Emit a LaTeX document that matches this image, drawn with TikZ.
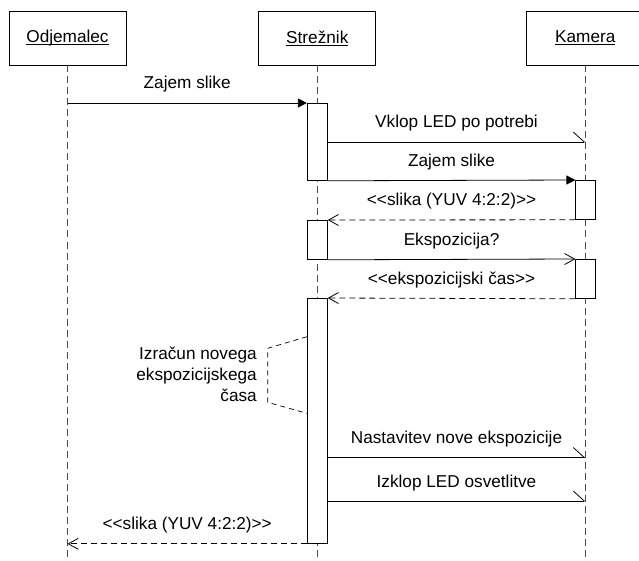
\documentclass[tikz,border=0pt]{standalone}
\usepackage{fontspec}
\setmainfont{Liberation Sans}[Ligatures=TeXOff]
\usetikzlibrary{arrows.meta}
% participant names: text with a rule just under the baseline
\newcommand\ulname[1]{\setbox0\hbox{#1}\rlap{\rule[-2.4pt]{\wd0}{0.9pt}}\box0}
\begin{document}
\begin{tikzpicture}[x=1pt,y=-1pt,
  font=\fontsize{17.2}{21}\selectfont,
  actor/.style={draw, line width=0.8pt, minimum width=117pt, minimum height=54pt, inner sep=0pt, anchor=north},
  life/.style={draw=black!70, line width=0.8pt, dash pattern=on 7pt off 4pt},
  act/.style={draw, fill=white, line width=0.8pt, minimum width=20pt, inner sep=0pt, anchor=north},
  call/.style={line width=0.8pt, -{Triangle[length=9pt,width=9pt]}},
  async/.style={line width=0.8pt, -{Straight Barb[length=11pt,width=20pt,left]}},
  sig/.style={line width=0.8pt, -{Straight Barb[length=10pt,width=11pt]}},
  reply/.style={sig, dash pattern=on 6pt off 4pt},
  msg/.style={anchor=base, yshift=14pt},
  note/.style={line width=0.7pt, dash pattern=on 5pt off 4pt}]
\useasboundingbox (0,0) rectangle (639,561);

% participants
\node[actor] (o) at (67.5,10.7) {\ulname{Odjemalec}};
\node[actor] (s) at (317.3,10.7) {\ulname{Strežnik}};
\node[actor] (k) at (585.3,10.7) {\ulname{Kamera}};

% lifelines
\coordinate (oe) at (67.5,561);
\coordinate (se) at (317.3,561);
\coordinate (ke) at (585.3,561);
\draw[life] (o.south) -- (oe);
\draw[life] (s.south) -- (se);
\draw[life] (k.south) -- (ke);

% activations
\node[act, minimum height=77pt] (s1) at (317.3,103) {};
\node[act, minimum height=39pt] (k1) at (585.8,180) {};
\node[act, minimum height=39pt] (s2) at (317.3,220) {};
\node[act, minimum height=39pt] (k2) at (585.8,259) {};
\node[act, minimum height=245pt] (s3) at (317.3,298) {};

% messages
\draw[call] (s1.north west -| o.south) -- node[msg]{Zajem slike} (s1.north west);
\coordinate (m2) at (s1.east |- 0,142);
\draw[async] (m2) -- node[msg]{Vklop LED po potrebi} (m2 -| k.south);
\draw[call] (s1.south east) -- node[msg]{Zajem slike} (k1.north west);
\draw[reply] (k1.south west) -- node[msg]{<<slika (YUV 4:2:2)>>} (s2.north east);
\draw[sig] (s2.south east) -- node[msg]{Ekspozicija?} (k2.north west);
\draw[reply] (k2.south west) -- node[msg]{<<ekspozicijski čas>>} (s3.north east);
\coordinate (m7) at (s3.east |- 0,457.5);
\draw[async] (m7) -- node[msg]{Nastavitev nove ekspozicije} (m7 -| k.south);
\coordinate (m8) at (s3.east |- 0,501);
\draw[async] (m8) -- node[msg]{Izklop LED osvetlitve} (m8 -| k.south);
\draw[reply] (s3.south west) -- node[msg]{<<slika (YUV 4:2:2)>>} (s3.south west -| o.south);

% note on the server's computation
\node[align=right, anchor=east, inner sep=0pt] (n) at (257,374) {Izračun novega\\ekspozicijskega\\časa};
\coordinate (n1) at (s3.west |- 0,336.7);
\coordinate (n2) at (s3.west |- 0,413.3);
\draw[note] (n1) -- (267.7,348.3) -- (267.7,402.3) -- (n2);
\end{tikzpicture}
\end{document}
